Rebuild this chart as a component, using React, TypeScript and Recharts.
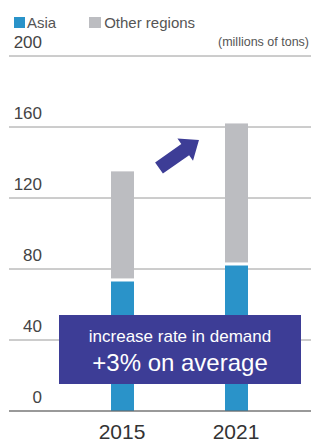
import React from "react";
import { BarChart, Bar, XAxis, YAxis, CartesianGrid } from "recharts";

const years = ["2015", "2021"];
const asia = [73, 82];
const otherRegions = [62, 80];
const yTicks = [0, 40, 80, 120, 160, 200];

const data = years.map((y, i) => ({ year: y, asia: asia[i], other: otherRegions[i] }));

const FONT = "'Liberation Sans', Arial, Helvetica, sans-serif";
const BLUE = "#2a93c9";
const GRAY = "#bcbdc1";
const PURPLE = "#3d3d96";

const YTick = (props: any) => {
  const { y, payload } = props;
  return (
    <text x={42} y={y - 8} textAnchor="end" fontSize={17} fontFamily={FONT} fill="#444">
      {payload.value}
    </text>
  );
};

const XTick = (props: any) => {
  const { x, payload } = props;
  return (
    <text x={x} y={439} textAnchor="middle" fontSize={21} fontFamily={FONT} fill="#333">
      {payload.value}
    </text>
  );
};

const OtherShape = (props: any) => {
  const { x, y, width, height, fill } = props;
  return <rect x={x} y={y} width={width} height={Math.max(0, height - 3)} fill={fill} />;
};

export default function App() {
  return (
    <div style={{ position: "absolute", left: 0, top: 0, width: 311, height: 442, background: "#fff" }}>
      <BarChart
        width={311}
        height={442}
        data={data}
        margin={{ top: 56, right: 0, bottom: 1, left: -25 }}
      >
        <CartesianGrid vertical={false} stroke="#9a9a9a" strokeWidth={1} />
        <YAxis
          domain={[0, 200]}
          ticks={yTicks}
          width={34}
          axisLine={false}
          tickLine={false}
          tick={<YTick />}
          interval={0}
        />
        <XAxis
          dataKey="year"
          height={30}
          padding={{ left: 56, right: 18 }}
          axisLine={{ stroke: "#666", strokeWidth: 1.2 }}
          tickLine={false}
          tick={<XTick />}
        />
        <Bar dataKey="asia" stackId="s" fill={BLUE} barSize={23} isAnimationActive={false} />
        <Bar dataKey="other" stackId="s" fill={GRAY} barSize={23} shape={<OtherShape />} isAnimationActive={false} />
      </BarChart>
      <div
        style={{
          position: "absolute",
          top: 15,
          left: 14,
          display: "flex",
          fontFamily: FONT,
          fontSize: 15,
          color: "#555",
          lineHeight: "15px",
          whiteSpace: "nowrap",
        }}
      >
        <div style={{ display: "flex", alignItems: "center", marginRight: 33 }}>
          <span style={{ width: 11, height: 11, background: BLUE, display: "inline-block", marginRight: 2 }} />
          <span>Asia</span>
        </div>
        <div style={{ display: "flex", alignItems: "center" }}>
          <span style={{ width: 12, height: 11, background: GRAY, display: "inline-block", marginRight: 3 }} />
          <span>Other regions</span>
        </div>
      </div>
      <svg
        width={311}
        height={442}
        style={{ position: "absolute", left: 0, top: 0, pointerEvents: "none" }}
      >
        <text x={309} y={46} textAnchor="end" fontSize={12.5} fontFamily={FONT} fill="#555">
          (millions of tons)
        </text>
        <g transform="translate(159,168) rotate(-35)">
          <polygon points="0,-6.8 32,-6.8 32,-13.6 48.8,0 32,13.6 32,6.8 0,6.8" fill={PURPLE} />
        </g>
        <rect x={59} y={315} width={242} height={69} fill={PURPLE} />
        <text x={180} y={342} textAnchor="middle" fontSize={17} fontFamily={FONT} fill="#fff">
          increase rate in demand
        </text>
        <text x={180} y={371} textAnchor="middle" fontSize={24} fontFamily={FONT} fill="#fff">
          +3% on average
        </text>
      </svg>
    </div>
  );
}
